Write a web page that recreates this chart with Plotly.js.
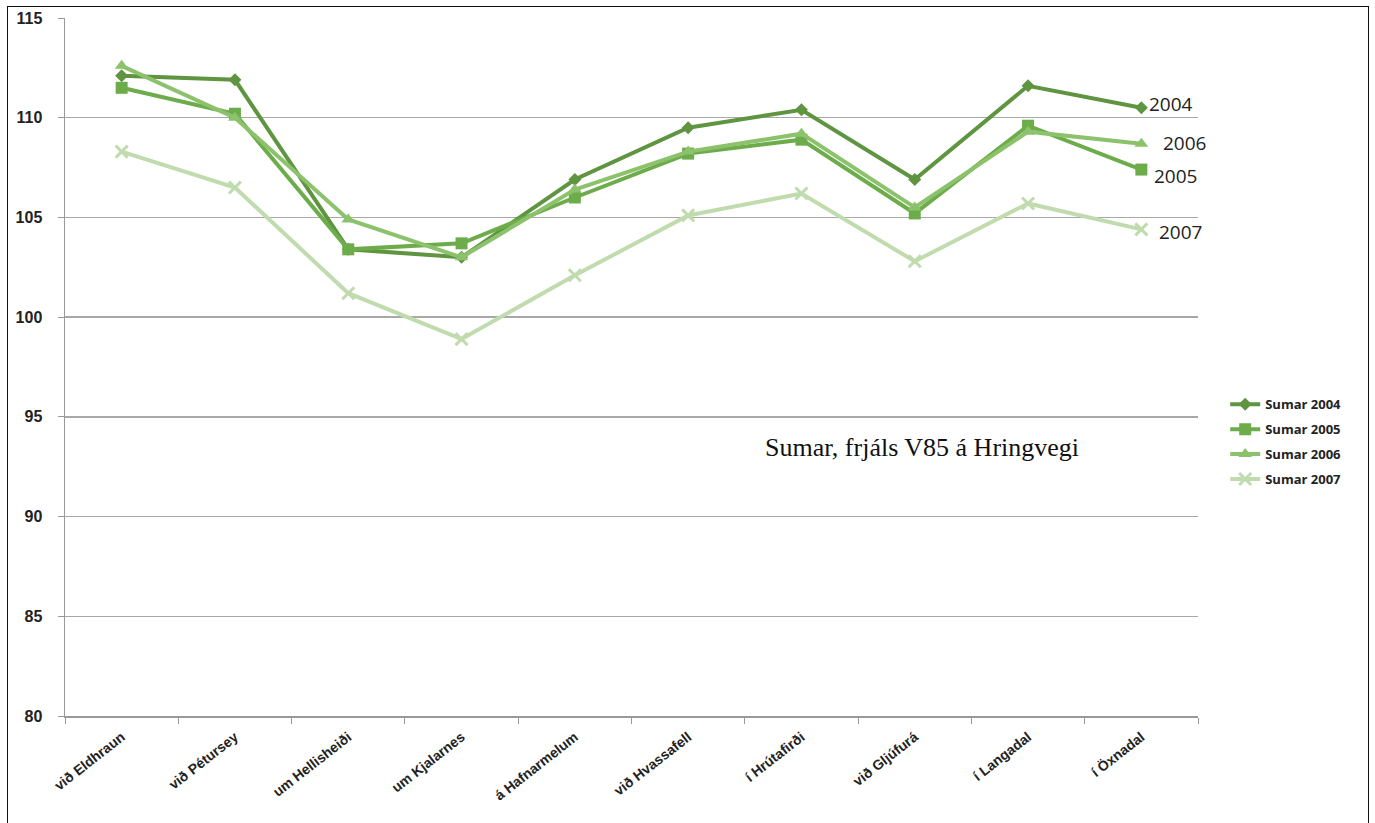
<!DOCTYPE html>
<html>
<head>
<meta charset="utf-8">
<script src="https://cdn.plot.ly/plotly-3.0.1.min.js"></script>
<style>
  html, body { margin: 0; padding: 0; background: #fff; }
  #wrap { position: relative; width: 1375px; height: 823px; }
  #chart { width: 1375px; height: 823px; }
  #frame { position: absolute; left: 7px; top: 6px; width: 1360px; height: 830px; border: 1.5px solid #111; pointer-events: none; }
</style>
</head>
<body>
<div id="wrap">
  <div id="chart"></div>
  <div id="frame"></div>
</div>
<script>
const categories = ["við Eldhraun", "við Pétursey", "um Hellisheiði", "um Kjalarnes", "á Hafnarmelum",
                    "við Hvassafell", "í Hrútafirði", "við Gljúfurá", "í Langadal", "í Öxnadal"];
const sumar2004 = [112.1, 111.9, 103.4, 103.0, 106.9, 109.5, 110.4, 106.9, 111.6, 110.5];
const sumar2005 = [111.5, 110.2, 103.4, 103.7, 106.0, 108.2, 108.9, 105.2, 109.6, 107.4];
const sumar2006 = [112.6, 110.0, 104.9, 103.0, 106.4, 108.3, 109.2, 105.5, 109.3, 108.7];
const sumar2007 = [108.3, 106.5, 101.2, 98.9, 102.1, 105.1, 106.2, 102.8, 105.7, 104.4];
const seriesNames = ["Sumar 2004", "Sumar 2005", "Sumar 2006", "Sumar 2007"];
const endLabels = ["2004", "2005", "2006", "2007"];
const yTicks = [80, 85, 90, 95, 100, 105, 110, 115];
const chartNote = "Sumar, frjáls V85 á Hringvegi";

const colors = ["#5f9440", "#6dac4a", "#8cc26c", "#c0dbae"];
const symbols = ["diamond", "square", "triangle-up", "x-thin-open"];
const sizes = [10, 12, 12, 12];
const allSeries = [sumar2004, sumar2005, sumar2006, sumar2007];

const traces = allSeries.map((vals, i) => ({
  type: "scatter",
  mode: "lines+markers",
  name: seriesNames[i],
  legendgroup: "g" + i,
  x: categories,
  y: vals,
  line: { color: colors[i], width: 4 },
  marker: { symbol: symbols[i], size: sizes[i], color: colors[i],
            line: { color: colors[i], width: i === 3 ? 3 : 0 } }
}));

const labelShift = [[6, 4], [11, -6], [20, 1], [16, -3]];
const annotations = endLabels.map((t, i) => ({
  x: categories[categories.length - 1],
  y: allSeries[i][allSeries[i].length - 1],
  xref: "x", yref: "y",
  text: t, showarrow: false,
  xanchor: "left", yanchor: "middle",
  xshift: labelShift[i][0], yshift: labelShift[i][1],
  font: { family: "Open Sans, Liberation Sans, sans-serif", size: 19, color: "#222" }
}));
annotations.push({
  x: 0.756, y: 0.385, xref: "paper", yref: "paper",
  text: chartNote, showarrow: false,
  xanchor: "center", yanchor: "middle",
  font: { family: "Liberation Serif, Times New Roman, serif", size: 26, color: "#111" }
});

const layout = {
  width: 1375, height: 823,
  margin: { l: 65, r: 177, t: 18, b: 107 },
  paper_bgcolor: "#fff", plot_bgcolor: "#fff",
  showlegend: true,
  legend: {
    x: 1.024, y: 0.468, xanchor: "left", yanchor: "top",
    font: { family: "Open Sans, Liberation Sans, sans-serif", size: 13, color: "#222", weight: "bold" },
    tracegroupgap: 5, bgcolor: "rgba(0,0,0,0)"
  },
  xaxis: {
    type: "category", range: [-0.5, 9.5],
    tickson: "boundaries", ticks: "outside", ticklen: 6, tickcolor: "#999",
    showline: true, linecolor: "#999", linewidth: 1.5,
    showgrid: false, tickangle: -38, ticklabelstandoff: 6,
    tickfont: { family: "Liberation Sans, Arial, sans-serif", size: 14, color: "#222", weight: "bold" }
  },
  yaxis: {
    range: [80, 115], tickvals: yTicks, ticktext: yTicks.map(String),
    ticks: "outside", ticklen: 6, tickcolor: "#999",
    showline: true, linecolor: "#999", linewidth: 1.5,
    showgrid: true, gridcolor: "#a8a8a8", gridwidth: 1.5, zeroline: false,
    ticklabelstandoff: 12,
    tickfont: { family: "Liberation Sans, Arial, sans-serif", size: 16, color: "#222", weight: "bold" }
  },
  annotations: annotations
};

Plotly.newPlot("chart", traces, layout, { displayModeBar: false, staticPlot: true });
</script>
</body>
</html>
